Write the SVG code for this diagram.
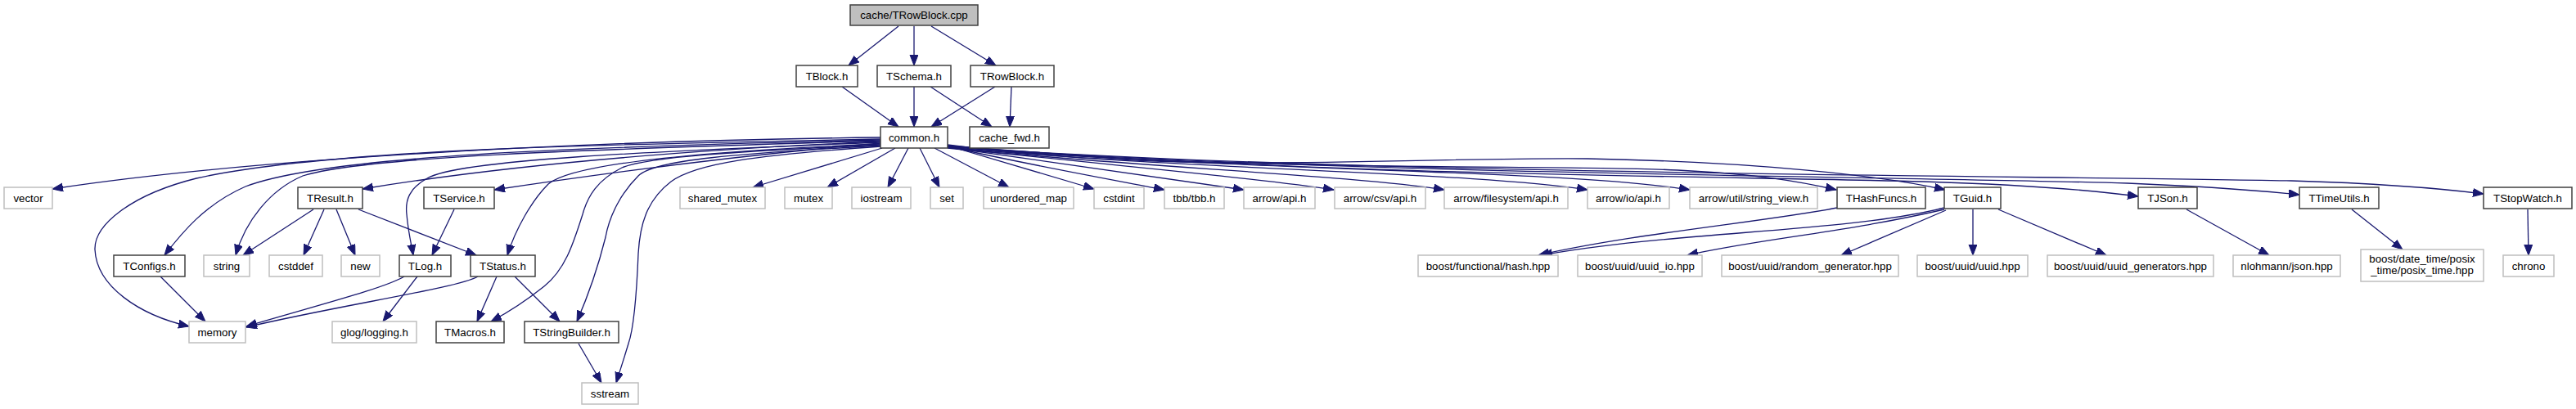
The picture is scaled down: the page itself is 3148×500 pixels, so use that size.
<svg xmlns="http://www.w3.org/2000/svg" width="3148" height="500" viewBox="0 0 3148 500">
<defs>
<marker id="ah" markerWidth="15" markerHeight="11" refX="13" refY="5" orient="auto" markerUnits="userSpaceOnUse"><path d="M0,0 L13,5 L0,10 z" fill="#191970" stroke="#191970" stroke-width="1"/></marker>
<style>
.e{fill:none;stroke:#191970;stroke-width:1.3;marker-end:url(#ah)}
.n rect{fill:#fff;stroke:#404040;stroke-width:1.5}
.x rect{fill:#fff;stroke:#bfbfbf;stroke-width:1.5}
.r rect{fill:#bfbfbf;stroke:#404040;stroke-width:1.5}
text{font-family:"Liberation Sans",Arial,Helvetica,sans-serif;font-size:13.3px;text-anchor:middle;fill:#000}
</style>
</defs>
<rect width="3148" height="500" fill="#fff"/>
<g id="edges">
<path class="e" d="M1098,32 L1037,80"/>
<path class="e" d="M1117,32 L1117,80"/>
<path class="e" d="M1138,32 L1217,80"/>
<path class="e" d="M1029,106 L1098,155"/>
<path class="e" d="M1117,106 L1117,155"/>
<path class="e" d="M1137,106 L1212,155"/>
<path class="e" d="M1216,106 L1138,155"/>
<path class="e" d="M1236,106 L1234,155"/>
<path class="e" d="M1076,168 C700,172 300,195 64,231"/>
<path class="e" d="M1076,170 C750,176 400,182 240,218 C160,238 115,275 116,305 C118,350 170,385 231,399"/>
<path class="e" d="M1076,171 C700,180 400,190 300,228 C250,250 222,285 201,312"/>
<path class="e" d="M1076,172 C750,182 450,190 370,215 C330,232 300,270 288,312"/>
<path class="e" d="M1076,173 C800,185 600,205 443,231"/>
<path class="e" d="M1076,174 C800,185 560,195 522,218 C500,230 495,245 497,262 C499,285 503,300 505,312"/>
<path class="e" d="M1076,175 C900,190 750,210 604,232"/>
<path class="e" d="M1076,176 C850,185 700,200 670,225 C650,245 630,280 620,312"/>
<path class="e" d="M1076,177 C900,185 790,192 760,205 C730,220 718,240 712,262 C700,300 690,330 665,350 C640,370 615,385 600,393"/>
<path class="e" d="M1076,178 C900,188 800,195 780,215 C760,235 745,262 740,290 C730,330 715,370 705,393"/>
<path class="e" d="M1076,179 C920,190 850,200 820,222 C790,245 782,275 780,310 C778,360 775,400 768,420 C762,440 757,455 753,468"/>
<path class="e" d="M1078,181 L920,229"/>
<path class="e" d="M1094,181 L1011,229"/>
<path class="e" d="M1110,181 L1085,229"/>
<path class="e" d="M1124,181 L1148,229"/>
<path class="e" d="M1142,181 L1233,229"/>
<path class="e" d="M1158,178 L1337,231"/>
<path class="e" d="M1158,179 C1250,200 1350,218 1423,232"/>
<path class="e" d="M1158,180 C1300,200 1420,217 1520,232"/>
<path class="e" d="M1158,180 C1330,200 1520,215 1630,232"/>
<path class="e" d="M1158,181 C1400,205 1650,214 1765,232"/>
<path class="e" d="M1158,180 C1450,208 1800,210 1940,232"/>
<path class="e" d="M1158,179 C1500,210 1900,206 2065,232"/>
<path class="e" d="M1158,178 C1500,212 1900,200 2050,208 C2150,213 2200,222 2244,232"/>
<path class="e" d="M1158,177 C1450,215 1700,192 1940,194 C2150,198 2300,215 2377,232"/>
<path class="e" d="M1158,178 C1600,215 2100,215 2350,222 C2480,226 2560,233 2613,240"/>
<path class="e" d="M1158,179 C1600,213 2300,215 2600,224 C2700,228 2770,234 2810,238"/>
<path class="e" d="M1158,179 C1600,212 2400,214 2800,221 C2900,224 2980,230 3035,237"/>
<path class="e" d="M383,256 L297,312"/>
<path class="e" d="M396,256 L371,312"/>
<path class="e" d="M411,256 L434,312"/>
<path class="e" d="M438,256 L582,312"/>
<path class="e" d="M555,256 L528,312"/>
<path class="e" d="M196,338 L251,393"/>
<path class="e" d="M494,338 C470,352 400,370 301,399"/>
<path class="e" d="M510,338 L468,393"/>
<path class="e" d="M584,338 C560,352 420,372 301,400"/>
<path class="e" d="M607,338 L583,393"/>
<path class="e" d="M629,338 L684,393"/>
<path class="e" d="M707,420 L735,468"/>
<path class="e" d="M2245,254 C2150,272 2000,285 1880,312"/>
<path class="e" d="M2376,254 C2250,285 2050,282 1884,312"/>
<path class="e" d="M2376,256 C2250,285 2150,292 2062,312"/>
<path class="e" d="M2378,257 L2250,312"/>
<path class="e" d="M2411,256 L2411,312"/>
<path class="e" d="M2442,256 L2574,312"/>
<path class="e" d="M2672,256 L2773,312"/>
<path class="e" d="M2874,256 L2936,305"/>
<path class="e" d="M3089,256 L3090,312"/>
</g>
<g id="n_cpp" class="r"><rect x="1039" y="6" width="156" height="25"/><text x="1117" y="23">cache/TRowBlock.cpp</text></g>
<g id="n_tblock" class="n"><rect x="973" y="80" width="75" height="26"/><text x="1010.5" y="97.5">TBlock.h</text></g>
<g id="n_tschema" class="n"><rect x="1072" y="80" width="90" height="26"/><text x="1117" y="97.5">TSchema.h</text></g>
<g id="n_trowblock" class="n"><rect x="1186" y="80" width="102" height="26"/><text x="1237" y="97.5">TRowBlock.h</text></g>
<g id="n_common" class="n"><rect x="1076" y="155" width="82" height="26"/><text x="1117" y="172.5">common.h</text></g>
<g id="n_cachefwd" class="n"><rect x="1185" y="155" width="97" height="26"/><text x="1233.5" y="172.5">cache_fwd.h</text></g>
<g id="n_vector" class="x"><rect x="5" y="229" width="59" height="26"/><text x="34.5" y="246.5">vector</text></g>
<g id="n_tresult" class="n"><rect x="364" y="229" width="79" height="26"/><text x="403.5" y="246.5">TResult.h</text></g>
<g id="n_tservice" class="n"><rect x="518" y="229" width="86" height="26"/><text x="561" y="246.5">TService.h</text></g>
<g id="n_sharedmutex" class="x"><rect x="831" y="229" width="104" height="26"/><text x="883" y="246.5">shared_mutex</text></g>
<g id="n_mutex" class="x"><rect x="959" y="229" width="58" height="26"/><text x="988" y="246.5">mutex</text></g>
<g id="n_iostream" class="x"><rect x="1041" y="229" width="72" height="26"/><text x="1077" y="246.5">iostream</text></g>
<g id="n_set" class="x"><rect x="1137" y="229" width="40" height="26"/><text x="1157" y="246.5">set</text></g>
<g id="n_umap" class="x"><rect x="1202" y="229" width="110" height="26"/><text x="1257" y="246.5">unordered_map</text></g>
<g id="n_cstdint" class="x"><rect x="1337" y="229" width="61" height="26"/><text x="1367.5" y="246.5">cstdint</text></g>
<g id="n_tbb" class="x"><rect x="1423" y="229" width="73" height="26"/><text x="1459.5" y="246.5">tbb/tbb.h</text></g>
<g id="n_arrowapi" class="x"><rect x="1520" y="229" width="87" height="26"/><text x="1563.5" y="246.5">arrow/api.h</text></g>
<g id="n_arrowcsv" class="x"><rect x="1631" y="229" width="111" height="26"/><text x="1686.5" y="246.5">arrow/csv/api.h</text></g>
<g id="n_arrowfs" class="x"><rect x="1765" y="229" width="151" height="26"/><text x="1840.5" y="246.5">arrow/filesystem/api.h</text></g>
<g id="n_arrowio" class="x"><rect x="1940" y="229" width="100" height="26"/><text x="1990" y="246.5">arrow/io/api.h</text></g>
<g id="n_arrowsv" class="x"><rect x="2065" y="229" width="156" height="26"/><text x="2143" y="246.5">arrow/util/string_view.h</text></g>
<g id="n_thash" class="n"><rect x="2245" y="229" width="108" height="26"/><text x="2299" y="246.5">THashFuncs.h</text></g>
<g id="n_tguid" class="n"><rect x="2376" y="229" width="69" height="26"/><text x="2410.5" y="246.5">TGuid.h</text></g>
<g id="n_tjson" class="n"><rect x="2613" y="229" width="72" height="26"/><text x="2649" y="246.5">TJSon.h</text></g>
<g id="n_ttime" class="n"><rect x="2810" y="229" width="97" height="26"/><text x="2858.5" y="246.5">TTimeUtils.h</text></g>
<g id="n_tstop" class="n"><rect x="3035" y="229" width="108" height="26"/><text x="3089" y="246.5">TStopWatch.h</text></g>
<g id="n_tconfigs" class="n"><rect x="139" y="312" width="87" height="26"/><text x="182.5" y="329.5">TConfigs.h</text></g>
<g id="n_string" class="x"><rect x="249" y="312" width="56" height="26"/><text x="277" y="329.5">string</text></g>
<g id="n_cstddef" class="x"><rect x="329" y="312" width="65" height="26"/><text x="361.5" y="329.5">cstddef</text></g>
<g id="n_new" class="x"><rect x="417" y="312" width="47" height="26"/><text x="440.5" y="329.5">new</text></g>
<g id="n_tlog" class="n"><rect x="488" y="312" width="63" height="26"/><text x="519.5" y="329.5">TLog.h</text></g>
<g id="n_tstatus" class="n"><rect x="575" y="312" width="79" height="26"/><text x="614.5" y="329.5">TStatus.h</text></g>
<g id="n_bhash" class="x"><rect x="1733" y="312" width="171" height="26"/><text x="1818.5" y="329.5">boost/functional/hash.hpp</text></g>
<g id="n_uuidio" class="x"><rect x="1928" y="312" width="152" height="26"/><text x="2004" y="329.5">boost/uuid/uuid_io.hpp</text></g>
<g id="n_randgen" class="x"><rect x="2104" y="312" width="216" height="26"/><text x="2212" y="329.5">boost/uuid/random_generator.hpp</text></g>
<g id="n_uuid" class="x"><rect x="2343" y="312" width="135" height="26"/><text x="2410.5" y="329.5">boost/uuid/uuid.hpp</text></g>
<g id="n_uuidgen" class="x"><rect x="2502" y="312" width="203" height="26"/><text x="2603.5" y="329.5">boost/uuid/uuid_generators.hpp</text></g>
<g id="n_json" class="x"><rect x="2729" y="312" width="131" height="26"/><text x="2794.5" y="329.5">nlohmann/json.hpp</text></g>
<g id="n_posix" class="x"><rect x="2885" y="305" width="150" height="39"/><text x="2960" y="321">boost/date_time/posix</text><text x="2960" y="335">_time/posix_time.hpp</text></g>
<g id="n_chrono" class="x"><rect x="3059" y="312" width="62" height="26"/><text x="3090" y="329.5">chrono</text></g>
<g id="n_memory" class="x"><rect x="231" y="393" width="69" height="26"/><text x="265.5" y="410.5">memory</text></g>
<g id="n_glog" class="x"><rect x="406" y="393" width="103" height="26"/><text x="457.5" y="410.5">glog/logging.h</text></g>
<g id="n_tmacros" class="n"><rect x="533" y="393" width="83" height="26"/><text x="574.5" y="410.5">TMacros.h</text></g>
<g id="n_tsb" class="n"><rect x="641" y="393" width="115" height="26"/><text x="698.5" y="410.5">TStringBuilder.h</text></g>
<g id="n_sstream" class="x"><rect x="711" y="468" width="69" height="26"/><text x="745.5" y="485.5">sstream</text></g>
</svg>
